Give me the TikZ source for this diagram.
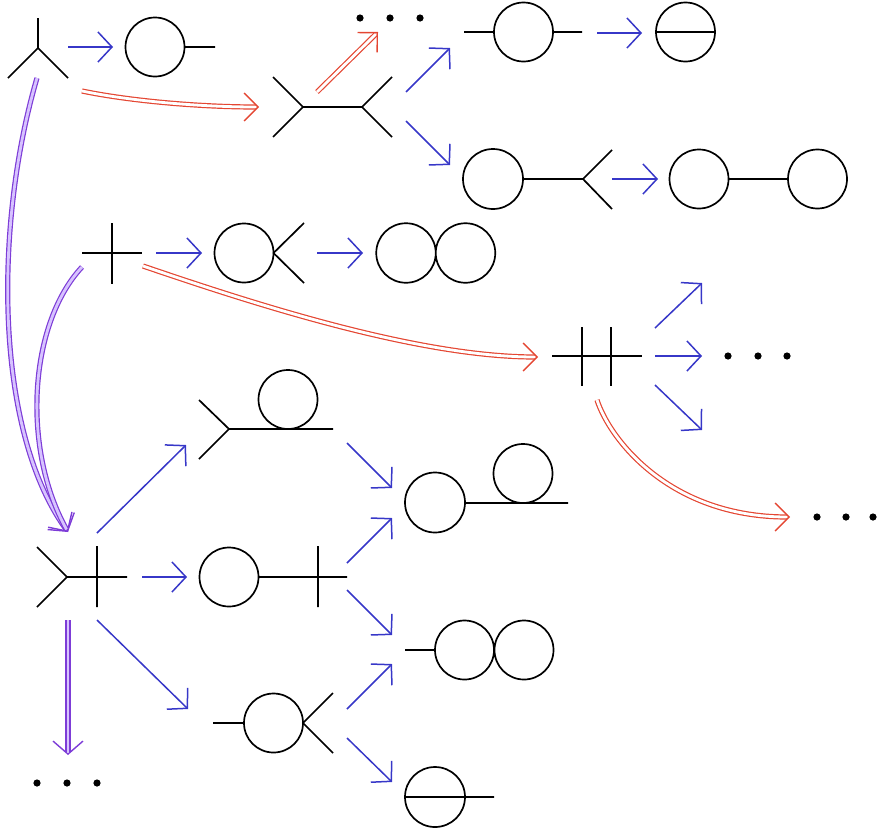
\documentclass[tikz,border=0pt]{standalone}
\usetikzlibrary{arrows.meta}
\definecolor{blueA}{RGB}{55,55,200}
\definecolor{redA}{RGB}{228,70,50}
\definecolor{purpA}{RGB}{125,60,215}
\definecolor{lavA}{RGB}{215,195,255}
\newcommand\dblconn[2]{\draw[#1dbl]#2;\draw[#1tip]#2;}
\begin{document}
\begin{tikzpicture}[x=1pt,y=-1pt,
  feyn/.style={draw=black, line width=1.7pt},
  bl/.style={draw=blueA, line width=1.5pt, -{Straight Barb[length=14pt,width=30pt]}},
  reddbl/.style={draw=redA, line width=1.2pt, double=white, double distance=2.8pt, shorten >=3pt},
  redtip/.style={draw=redA, line width=1.4pt, dash pattern=on 0pt off 2000pt, -{Straight Barb[length=14pt,width=28pt]}},
  purpdbl/.style={draw=purpA, line width=1.2pt, double=lavA, double distance=2.8pt, shorten >=3pt},
  purptip/.style={draw=purpA, line width=1.4pt, dash pattern=on 0pt off 2000pt, -{Straight Barb[length=13pt,width=30pt]}},
  dot/.style={fill=black}]
\useasboundingbox (0,0) rectangle (877,830);
% ---------- diagrams ----------
% D1
\draw[feyn] (38,18) -- (38,48) (8,78) -- (38,48) -- (68,78);
\draw[feyn] (155,47) circle[radius=29.5pt] (184.5,47) -- (215,47);
% D2
\draw[feyn] (273,77) -- (303,107) -- (273,137) (303,107) -- (362,107) (392,77) -- (362,107) -- (392,137);
% D3
\draw[feyn] (464,32) -- (494,32) (523.5,32) circle[radius=29.5pt] (553,32) -- (582,32);
\draw[feyn] (685.5,32) circle[radius=29.5pt] (656,32) -- (715,32);
% D4
\draw[feyn] (493,179) circle[radius=30pt] (523,179) -- (583,179) (612,150) -- (583,179) -- (612,209);
\draw[feyn] (699,179) circle[radius=29.5pt] (728.5,179) -- (788,179) (817.5,179) circle[radius=29.5pt];
% D5
\draw[feyn] (82,253) -- (142,253) (112,223) -- (112,284);
\draw[feyn] (244,253) circle[radius=29.5pt] (304,223) -- (273.5,253) -- (304,283);
\draw[feyn] (406,253) circle[radius=29.75pt] (465.5,253) circle[radius=29.75pt];
% D6
\draw[feyn] (552,356) -- (642,356) (582,327) -- (582,386) (611,327) -- (611,386);
% D7
\draw[feyn] (37,547) -- (67,577) -- (37,607) (67,577) -- (127,577) (97,546) -- (97,607);
% D8
\draw[feyn] (199,400) -- (229,429) -- (199,459) (229,429) -- (333,429) (288,399.5) circle[radius=29.5pt];
% D9
\draw[feyn] (229,577) circle[radius=29.5pt] (258.5,577) -- (347,577) (318,546) -- (318,607);
% D10
\draw[feyn] (213,723) -- (244,723) (273.5,723) circle[radius=29.5pt] (333,693) -- (303,723) -- (333,753);
% D11
\draw[feyn] (435,502.5) circle[radius=30pt] (465,503) -- (568,503) (523,473.5) circle[radius=29.5pt];
% D12
\draw[feyn] (405,650) -- (435,650) (464.5,650) circle[radius=29.5pt] (524,650) circle[radius=29.5pt];
% D13
\draw[feyn] (435,797) circle[radius=30pt] (405,797) -- (494,797);
% dots
\foreach \x/\y in {360/18,390/18,420/18,728/356,758/356,787/356,817/517,846/517,873/517,37/783,67/783,97/783}
  \fill[dot] (\x,\y) circle[radius=3.6pt];
% ---------- coordinates ----------
\coordinate (b1s) at (68,47);   \coordinate (b1e) at (113,47);
\coordinate (b2s) at (406,92);  \coordinate (b2e) at (450,48);
\coordinate (b3s) at (406,121); \coordinate (b3e) at (450,165);
\coordinate (b4s) at (597,33);  \coordinate (b4e) at (642,33);
\coordinate (b5s) at (612,179); \coordinate (b5e) at (658,179);
\coordinate (b6s) at (156,253); \coordinate (b6e) at (202,253);
\coordinate (b7s) at (317,253); \coordinate (b7e) at (363,253);
\coordinate (b8s) at (655,328); \coordinate (b8e) at (702,283);
\coordinate (b9s) at (655,356); \coordinate (b9e) at (702,356);
\coordinate (b10s) at (655,385); \coordinate (b10e) at (702,430);
\coordinate (b11s) at (97,533);  \coordinate (b11e) at (186,445);
\coordinate (b12s) at (142,577); \coordinate (b12e) at (187,577);
\coordinate (b13s) at (97,620);  \coordinate (b13e) at (188,709);
\coordinate (b14s) at (347,443); \coordinate (b14e) at (392,488);
\coordinate (b15s) at (347,563); \coordinate (b15e) at (392,518);
\coordinate (b16s) at (347,590); \coordinate (b16e) at (392,635);
\coordinate (b17s) at (347,709); \coordinate (b17e) at (392,664);
\coordinate (b18s) at (347,738); \coordinate (b18e) at (392,782);
\coordinate (r1s) at (82,91);   \coordinate (r1e) at (259,107);
\coordinate (r2s) at (317,92);  \coordinate (r2e) at (378,32);
\coordinate (r3s) at (143,266); \coordinate (r3e) at (538,357);
\coordinate (r4s) at (597,400); \coordinate (r4e) at (790,517);
\coordinate (p1s) at (37,78);   \coordinate (pend) at (68,532);
\coordinate (p2s) at (82,267);
\coordinate (p3s) at (68,620);  \coordinate (p3e) at (68,755);
% ---------- blue arrows ----------
\foreach \i in {1,...,18} \draw[bl] (b\i s) -- (b\i e);
% ---------- red double arrows ----------
\dblconn{red}{(r1s) .. controls (130,101) and (200,107) .. (r1e)}
\dblconn{red}{(r2s) -- (r2e)}
\dblconn{red}{(r3s) .. controls (260,306) and (420,357) .. (r3e)}
\dblconn{red}{(r4s) .. controls (610,440) and (670,517) .. (r4e)}
% ---------- purple double arrows ----------
\dblconn{purp}{(p1s) .. controls (-6,225) and (-6,430) .. (pend)}
\dblconn{purp}{(p2s) .. controls (28,325) and (22,450) .. (pend)}
\dblconn{purp}{(p3s) -- (p3e)}
\end{tikzpicture}
\end{document}
